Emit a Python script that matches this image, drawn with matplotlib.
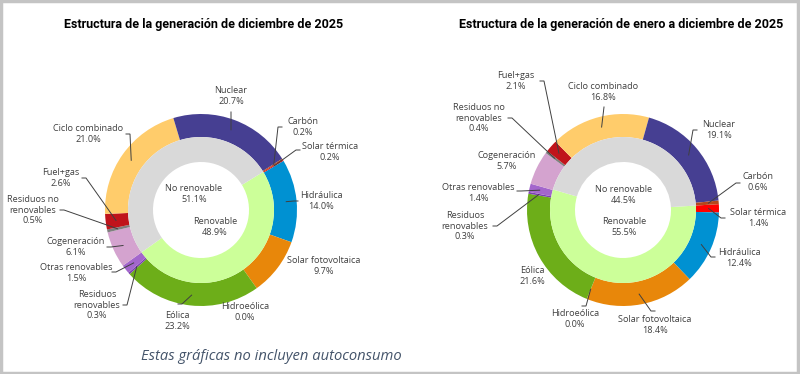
import matplotlib
matplotlib.use('Agg')
import matplotlib.pyplot as plt
import numpy as np

W, H = 800, 374

# outer ring order, clockwise starting at the first renewable slice
sources = ['Solar térmica', 'Hidráulica', 'Solar fotovoltaica', 'Hidroeólica', 'Eólica',
           'Residuos\nrenovables', 'Otras renovables', 'Cogeneración',
           'Residuos no\nrenovables', 'Fuel+gas', 'Ciclo combinado', 'Nuclear', 'Carbón']
dec_values = [0.2, 14.0, 9.7, 0.0, 23.2, 0.3, 1.5, 6.1, 0.5, 2.6, 21.0, 20.7, 0.2]
year_values = [1.4, 12.4, 18.4, 0.0, 21.6, 0.3, 1.4, 5.7, 0.4, 2.1, 16.8, 19.1, 0.6]

groups = ['Renovable', 'No renovable']
dec_groups = [48.9, 51.1]
year_groups = [55.5, 44.5]

colors = ['#FF0000', '#0091D2', '#E8870A', '#5B8C1E', '#6DAE19', '#7A3FB0', '#A366CC',
          '#D4A3CF', '#7F7F7F', '#C0141B', '#FFCC6B', '#463F92', '#B4471C']
group_colors = ['#CCFF99', '#D9D9D9']

titles = ['Estructura de la generación de diciembre de 2025',
          'Estructura de la generación de enero a diciembre de 2025']


def img(x, y):
    return x, H - y


def fmt(v):
    return f'{v:.1f}%'


# layout of each chart: centre, start angle, label positions (image pixels)
charts = [
    dict(values=dec_values, gvalues=dec_groups, center=(201, 210), start=31.5, title_x=204,
         labels=[(330, 152), (321, 201), (324, 266), (245, 312), (177, 321), (97, 305),
                 (76, 273), (76, 247), (33, 210), (61, 178), (88, 134), (231, 96), (303, 127)],
         ends=[(300, 150), (298, 201), None, None, (178, 304), (123, 305), (112, 272),
               (107, 247), (60, 210), (82, 178), (126, 134), (231, 112), (282, 127)],
         glabels=[(215, 227), (194, 194)]),
    dict(values=year_values, gvalues=year_groups, center=(623, 210), start=3.5, title_x=621,
         labels=[(758, 218), (739, 258), (655, 325), (575, 319), (532, 276), (465, 226),
                 (478, 193), (507, 161), (479, 118), (516, 81), (603, 92), (719, 130), (758, 182)],
         ends=[(725, 218), (715, 257), (655, 311), (582, 306), None, (493, 226), (517, 191),
               None, (508, 118), (540, 81), (604, 107), (697, 130), (740, 183)],
         glabels=[(624, 227), (624, 195)]),
]

plt.rcParams['font.family'] = ['Open Sans', 'DejaVu Sans']
fig = plt.figure(figsize=(W / 100, H / 100), dpi=100)
ax = fig.add_axes([0, 0, 1, 1])

R_OUT, R_MID, R_IN = 96, 73, 48

for i, ch in enumerate(charts):
    c = img(*ch['center'])
    wedges, _ = ax.pie(ch['values'], colors=colors, radius=R_OUT, center=c, startangle=ch['start'],
                       counterclock=False, frame=True,
                       wedgeprops=dict(width=R_OUT - R_MID, linewidth=0))
    ax.pie(ch['gvalues'], colors=group_colors, radius=R_MID, center=c, startangle=ch['start'],
           counterclock=False, frame=True,
           wedgeprops=dict(width=R_MID - R_IN, linewidth=0))

    for w, name, v, pos, end in zip(wedges, sources, ch['values'], ch['labels'], ch['ends']):
        ax.text(*img(*pos), f'{name}\n{fmt(v)}', ha='center', va='center', fontsize=6.6,
                color='#404040', linespacing=1.25)
        if end is None:
            continue
        mid = np.deg2rad((w.theta1 + w.theta2) / 2)
        r = R_OUT - 0.45 * (R_OUT - R_MID)
        px, py = c[0] + r * np.cos(mid), c[1] + r * np.sin(mid)
        ex, ey = img(*end)
        # short horizontal elbow at the label side, as Excel draws it
        step = 4 if px > ex else -4
        if abs(px - ex) < 3:
            step = 0
        ax.plot([ex, ex + step, px], [ey, ey, py], color='#404040', lw=0.7,
                solid_joinstyle='miter')

    for name, v, pos in zip(groups, ch['gvalues'], ch['glabels']):
        ax.text(*img(*pos), f'{name}\n{fmt(v)}', ha='center', va='center', fontsize=6.6,
                color='#404040', linespacing=1.25)

    ax.text(*img(ch['title_x'], 24), titles[i], ha='center', va='center',
            fontsize=9, fontweight='bold', family=['Roboto', 'DejaVu Sans'], color='black')

ax.text(*img(271, 357), 'Estas gráficas no incluyen autoconsumo', ha='center', va='center',
        fontsize=10.6, style='italic', color='#44546A')

ax.set_xlim(0, W)
ax.set_ylim(0, H)
ax.axis('off')

# grey frame round the picture
ax.add_patch(plt.Rectangle((1, 1.5), W - 3, H - 2.5, fill=False, edgecolor='#C4C4C4', lw=2.5,
                           clip_on=False))

fig.savefig('out.png', dpi=100)
